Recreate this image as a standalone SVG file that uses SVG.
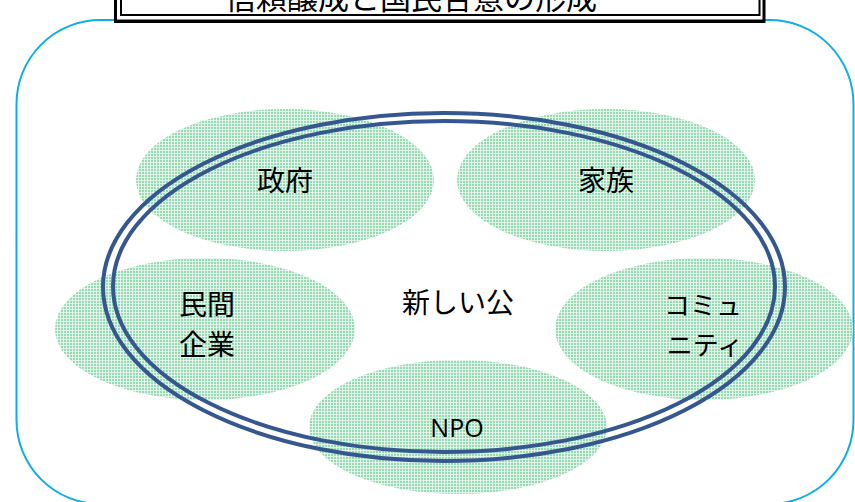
<svg xmlns="http://www.w3.org/2000/svg" width="855" height="502" viewBox="0 0 855 502">
  <defs>
    <pattern id="grid" width="3" height="3" patternUnits="userSpaceOnUse">
      <rect width="3" height="3" fill="#dff5e8"/>
      <rect x="1" y="1" width="2" height="2" fill="#98d9b3"/>
    </pattern>
    <style>
      .blob { fill: url(#grid); stroke: none; }
      .jp { font-family: "Noto Sans CJK JP", "Noto Sans", sans-serif; font-size: 28px; fill: #000; text-anchor: middle; }
      .en { font-family: "Open Sans", "Noto Sans", sans-serif; font-size: 25px; fill: #000; text-anchor: middle; }
      .ring { fill: none; stroke: #34578f; stroke-width: 4; }
    </style>
  </defs>
  <rect width="855" height="502" fill="#ffffff"/>

  <g id="title-box-fill">
    <rect x="121" y="-10" width="638.5" height="25" fill="#ffffff"/>
  </g>

  <g id="frame">
    <rect x="16.5" y="20" width="837" height="484" rx="84" ry="84" fill="none" stroke="#10aee8" stroke-width="2"/>
  </g>

  <g id="title">
    <rect x="115.5" y="-10" width="648.5" height="31.5" fill="none" stroke="#000" stroke-width="3"/>
    <rect x="121" y="-10" width="638.5" height="25" fill="none" stroke="#000" stroke-width="2"/>
    <text x="411" y="9" class="jp" style="font-size:31px">信頼醸成と国民合意の形成</text>
  </g>

  <g id="seifu">
    <ellipse class="blob" cx="285" cy="180" rx="149" ry="71"/>
    <text x="285" y="191" class="jp">政府</text>
  </g>
  <g id="kazoku">
    <ellipse class="blob" cx="606" cy="180" rx="149" ry="71"/>
    <text x="606" y="191" class="jp">家族</text>
  </g>
  <g id="minkan">
    <ellipse class="blob" cx="205" cy="329" rx="150" ry="71"/>
    <text x="207" y="315" class="jp">民間</text>
    <text x="207" y="355" class="jp">企業</text>
  </g>
  <g id="community">
    <ellipse class="blob" cx="704" cy="329" rx="149" ry="71"/>
    <text x="703" y="315" class="jp" style="font-size:26px">コミュ</text>
    <text x="705" y="355" class="jp" style="font-size:26px">ニティ</text>
  </g>
  <g id="npo">
    <ellipse class="blob" cx="458" cy="427" rx="149" ry="67"/>
    <text x="457" y="437" class="en">NPO</text>
  </g>

  <g id="connectors">
    <ellipse class="ring" cx="444" cy="287" rx="341" ry="174"/>
    <ellipse class="ring" cx="444" cy="286.5" rx="331" ry="165.5"/>
  </g>

  <g id="atarashii-ko">
    <text x="458" y="313" class="jp">新しい公</text>
  </g>
</svg>
